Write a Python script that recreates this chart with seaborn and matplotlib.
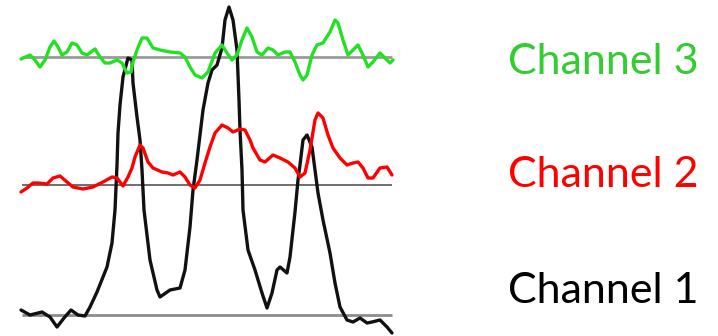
import matplotlib
matplotlib.use("Agg")
import matplotlib.pyplot as plt
import seaborn as sns
import pandas as pd

sns.set_theme(style="white")
plt.rcParams["font.family"] = ["Lato", "DejaVu Sans"]

# Sample positions and signal amplitude above each channel's baseline
ch1_t = [21, 30, 42, 50, 57, 64, 71, 78, 85, 90, 97, 107, 112, 115, 117, 118, 120, 123,
         128, 132, 133, 137, 140, 142, 144, 150, 157, 160, 170, 180, 185, 190, 193, 197,
         203, 208, 212, 217, 222, 225, 229, 233, 237, 239, 240, 242, 243, 248, 255, 262,
         267, 272, 277, 280, 287, 290, 295, 298, 300, 303, 307, 312, 315, 318, 323, 330,
         335, 340, 347, 353, 360, 367, 372, 380, 387, 392]
ch1_y = [5, 0, 3, -2, -12, -3, 5, 0, -1, 8, 23, 48, 72, 105, 150, 182, 210, 238,
         257, 255, 232, 198, 175, 145, 105, 55, 25, 18, 25, 27, 45, 88, 125, 155,
         205, 232, 245, 250, 267, 295, 308, 295, 265, 215, 185, 145, 105, 65, 45, 22,
         7, 22, 45, 48, 42, 58, 103, 135, 150, 175, 180, 168, 145, 122, 95, 62,
         32, 8, -5, -7, -3, -8, -7, -5, -12, -18]

ch2_t = [21, 27, 33, 38, 47, 53, 60, 67, 73, 83, 93, 103, 112, 117, 123, 128, 132, 135,
         140, 143, 148, 153, 162, 168, 173, 180, 185, 190, 195, 200, 205, 210, 215, 222,
         228, 233, 240, 245, 250, 253, 260, 265, 273, 280, 288, 295, 300, 305, 310, 315,
         318, 323, 328, 333, 340, 347, 353, 358, 363, 368, 373, 380, 387, 392]
ch2_y = [-7, -3, 2, 2, 1, 7, 9, 3, -2, -4, -2, 3, 8, 7, -1, 8, 17, 28,
         40, 37, 23, 17, 13, 12, 10, 13, 8, 0, -3, 5, 22, 38, 52, 60,
         57, 53, 56, 55, 45, 37, 25, 23, 30, 27, 23, 17, 8, 12, 35, 65,
         72, 67, 50, 37, 27, 20, 22, 23, 17, 7, 7, 17, 18, 10]

ch3_t = [21, 30, 35, 40, 45, 50, 54, 58, 62, 67, 72, 77, 82, 87, 95, 100, 105, 110,
         117, 122, 127, 131, 133, 137, 142, 147, 153, 160, 170, 180, 185, 190, 195, 202,
         208, 215, 222, 227, 232, 237, 242, 247, 252, 257, 262, 268, 273, 278, 285, 290,
         295, 300, 303, 307, 312, 317, 323, 330, 335, 338, 343, 348, 353, 358, 363, 368,
         373, 380, 385, 390, 393]
ch3_y = [-2, 2, -3, -10, -3, 10, 16, 10, 2, 5, 14, 12, 4, 2, 8, 0, -6, -6,
         -3, -6, -16, -15, -5, 7, 19, 19, 9, 7, 5, 4, 0, -10, -18, -21,
         -15, 4, 12, 4, -3, 2, 17, 29, 20, 5, 2, 9, 7, 2, 5, 5,
         -5, -18, -23, -18, 2, 12, 14, 25, 37, 34, 17, 2, 7, 12, 2, -10,
         -5, 4, -1, -6, -3]

channels = ["Channel 1", "Channel 2", "Channel 3"]
trace_colors = ["#111111", "#ff0000", "#22e022"]
label_colors = ["#000000", "#ff0000", "#33cc33"]
baseline_colors = ["#8c8c8c", "#555555", "#9a9a9a"]
baseline_widths = [2.0, 1.2, 2.0]
offsets = [21, 151, 279]
label_y = [33, 149, 262]

fig = plt.figure(figsize=(7.18, 3.36), dpi=100)
ax = fig.add_axes([0, 0, 1, 1])

frames = []
for name, t, y, off in zip(channels, [ch1_t, ch2_t, ch3_t], [ch1_y, ch2_y, ch3_y], offsets):
    frames.append(pd.DataFrame({"t": t, "signal": [v + off for v in y], "channel": name}))
df = pd.concat(frames, ignore_index=True)

# Grey reference baselines under each trace
for bcol, bw, off in zip(baseline_colors, baseline_widths, offsets):
    ax.hlines(off, 22, 392, color=bcol, linewidth=bw, zorder=1)

for name, col in zip(channels, trace_colors):
    sns.lineplot(data=df[df["channel"] == name], x="t", y="signal", color=col,
                 linewidth=2.4, ax=ax, zorder=3, legend=False, estimator=None)
    ax.lines[-1].set_solid_joinstyle("round")

for name, col, ly in zip(channels, label_colors, label_y):
    ax.text(508, ly, name, color=col, fontsize=31, ha="left", va="baseline")

ax.set_xlim(0, 718)
ax.set_ylim(0, 336)
ax.axis("off")
fig.savefig("out.png", dpi=100, facecolor="white")
